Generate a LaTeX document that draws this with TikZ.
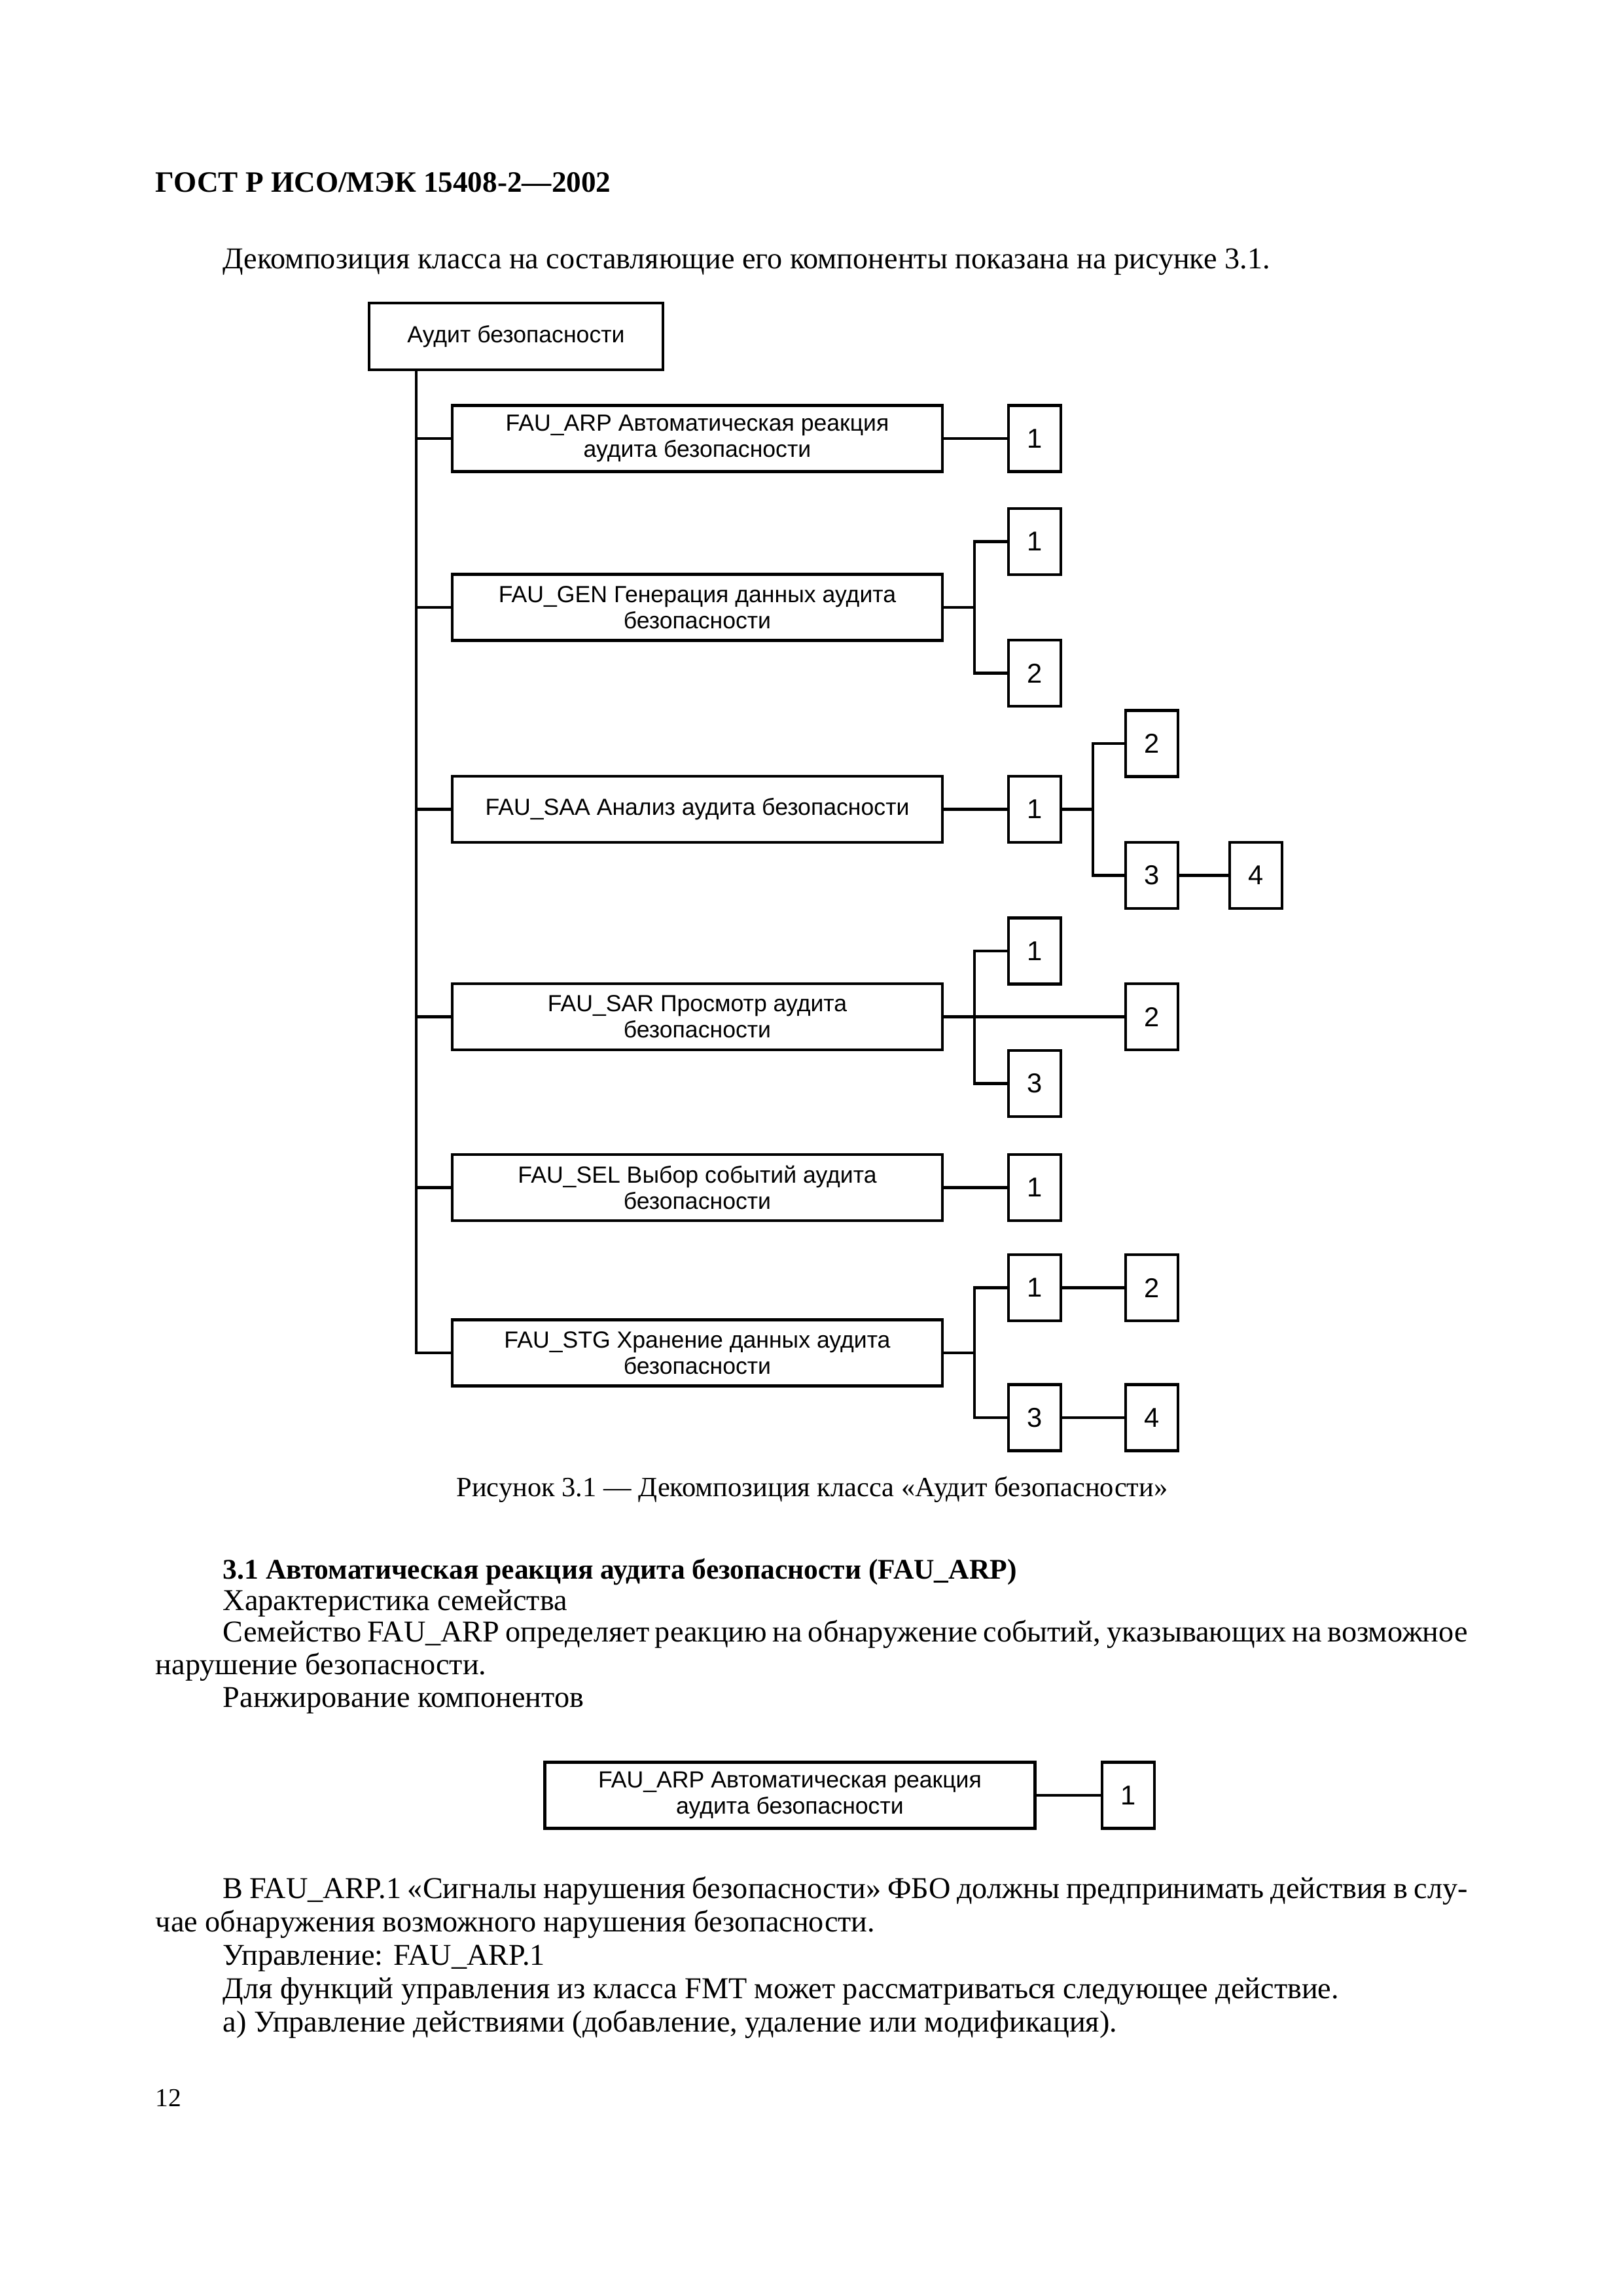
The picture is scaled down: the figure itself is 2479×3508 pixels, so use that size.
\documentclass[tikz,border=0pt]{standalone}
\usepackage{fontspec}
\setmainfont{Liberation Serif}
\newfontfamily\boxfont{Liberation Sans}
\begin{document}
\begin{tikzpicture}[x=0.24pt,y=-0.24pt,
  lw/.style={line width=1.05pt},
  bigbox/.style={draw, lw, minimum width=179.76pt, minimum height=24.24pt, inner sep=0pt, align=center, font=\boxfont\fontsize{8.55}{9.6}\selectfont},
  topbox/.style={bigbox, minimum width=107.76pt, minimum height=24.48pt},
  numbox/.style={draw, lw, minimum width=19.2pt, minimum height=24.24pt, inner sep=0pt, font=\boxfont\fontsize{10}{12}\selectfont},
  conn/.style={lw},
  body/.style={anchor=base west, inner sep=0pt, font=\fontsize{11.1}{13}\selectfont},
  bodyb/.style={body, font=\bfseries\fontsize{10.45}{13}\selectfont}]
\useasboundingbox (0,0) rectangle (2479,3508);
% header
\node[anchor=base west, inner sep=0pt, font=\bfseries\fontsize{10.85}{13}\selectfont] (hdr) at (237,294) {ГОСТ Р ИСО/МЭК 15408-2—2002};
\node[body] (intro) at (340,411) {Декомпозиция класса на составляющие его компоненты показана на рисунке 3.1.};
% diagram
\node[topbox] (top) at (788.5,514) {Аудит безопасности};
\node[bigbox] (arp) at (1065.5,670) {FAU\_ARP Автоматическая реакция\\аудита безопасности};
\node[bigbox] (gen) at (1065.5,928) {FAU\_GEN Генерация данных аудита\\безопасности};
\node[bigbox] (saa) at (1065.5,1236.5) {FAU\_SAA Анализ аудита безопасности};
\node[bigbox] (sar) at (1065.5,1553.5) {FAU\_SAR Просмотр аудита\\безопасности};
\node[bigbox] (sel) at (1065.5,1814.5) {FAU\_SEL Выбор событий аудита\\безопасности};
\node[bigbox] (stg) at (1065.5,2067) {FAU\_STG Хранение данных аудита\\безопасности};
% number boxes
\node[numbox] (arp1) at (1581,670) {1};
\node[numbox] (gen1) at (1581,827.5) {1};
\node[numbox] (gen2) at (1581,1028.5) {2};
\node[numbox] (saa1) at (1581,1236.5) {1};
\node[numbox] (saa2) at (1760,1136) {2};
\node[numbox] (saa3) at (1760,1337.5) {3};
\node[numbox] (saa4) at (1919,1337.5) {4};
\node[numbox] (sar1) at (1581,1453) {1};
\node[numbox] (sar2) at (1760,1553.5) {2};
\node[numbox] (sar3) at (1581,1655.5) {3};
\node[numbox] (sel1) at (1581,1814.5) {1};
\node[numbox] (stg1) at (1581,1967.5) {1};
\node[numbox] (stg2) at (1760,1967.5) {2};
\node[numbox] (stg3) at (1581,2166) {3};
\node[numbox] (stg4) at (1760,2166) {4};
% connectors
\coordinate (tr) at (636,0);
\coordinate (gb) at (1489,0);
\coordinate (sb) at (1670,0);
\draw[conn] (top.south -| tr) -- (tr |- stg.west) -- (stg.west);
\foreach \n in {arp,gen,saa,sar,sel} \draw[conn] (tr |- \n.west) -- (\n.west);
\draw[conn] (arp.east) -- (arp1.west);
\draw[conn] (gen.east) -- (gen.east -| gb);
\draw[conn] (gen1.west) -- (gen1.west -| gb) -- (gb |- gen2.west) -- (gen2.west);
\draw[conn] (saa.east) -- (saa1.west);
\draw[conn] (saa1.east) -- (saa1.east -| sb);
\draw[conn] (saa2.west) -- (saa2.west -| sb) -- (sb |- saa3.west) -- (saa3.west);
\draw[conn] (saa3.east) -- (saa4.west);
\draw[conn] (sar.east) -- (sar2.west);
\draw[conn] (sar1.west) -- (sar1.west -| gb) -- (gb |- sar3.west) -- (sar3.west);
\draw[conn] (sel.east) -- (sel1.west);
\draw[conn] (stg.east) -- (stg.east -| gb);
\draw[conn] (stg1.west) -- (stg1.west -| gb) -- (gb |- stg3.west) -- (stg3.west);
\draw[conn] (stg1.east) -- (stg2.west);
\draw[conn] (stg3.east) -- (stg4.west);
\node[anchor=base, inner sep=0pt, font=\fontsize{10.2}{12}\selectfont] (cap) at (1241,2286) {Рисунок 3.1 — Декомпозиция класса «Аудит безопасности»};
% section text
\node[bodyb] (h31) at (340,2412) {3.1 Автоматическая реакция аудита безопасности (FAU\_ARP)};
\node[body] (l1) at (340,2460) {Характеристика семейства};
\node[body] (l2) at (340,2508) {\makebox[456.5pt][s]{Семейство FAU\_ARP определяет реакцию на обнаружение событий, указывающих на возможное}};
\node[body] (l3) at (237,2558) {нарушение безопасности.};
\node[body] (l4) at (340,2608) {Ранжирование компонентов};
\node[bigbox] (arpb) at (1207,2743) {FAU\_ARP Автоматическая реакция\\аудита безопасности};
\node[numbox] (arpb1) at (1724,2743) {1};
\draw[conn] (arpb.east) -- (arpb1.west);
\node[body] (p1) at (340,2900) {\makebox[456.5pt][s]{В FAU\_ARP.1 «Сигналы нарушения безопасности» ФБО должны предпринимать действия в слу-}};
\node[body] (p2) at (237,2951) {чае обнаружения возможного нарушения безопасности.};
\node[body] (p3) at (340,3002) {Управление: FAU\_ARP.1};
\node[body] (p4) at (340,3053) {Для функций управления из класса FMT может рассматриваться следующее действие.};
\node[body] (p5) at (340,3104) {а) Управление действиями (добавление, удаление или модификация).};
\node[anchor=base west, inner sep=0pt, font=\fontsize{9.5}{11}\selectfont] (pg) at (237,3218) {12};
\end{tikzpicture}
\end{document}
